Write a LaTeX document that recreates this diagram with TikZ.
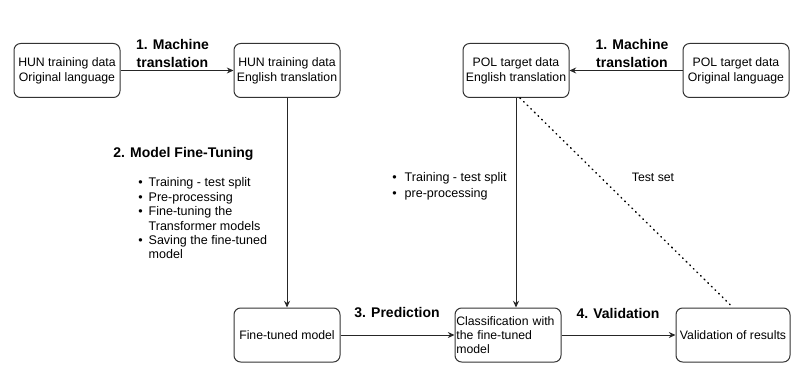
\documentclass[tikz,border=0pt]{standalone}
\usepackage{fontspec}
\setmainfont{Liberation Sans}
\usetikzlibrary{arrows.meta}

\begin{document}
\begin{tikzpicture}[
    x=0.75pt, y=-0.75pt,
    box/.style={rounded corners=5pt, draw=black!80, line width=0.75pt, minimum width=79.5pt, minimum height=40.5pt, align=center, font=\fontsize{9.2}{11.5}\selectfont, inner sep=1pt},
    arrow/.style={-{Stealth[length=5pt, width=4.5pt]}, line width=0.75pt, black!85},
    stage/.style={font=\fontsize{10.5}{13.5}\selectfont\bfseries, align=center, inner sep=0pt},
    notes/.style={font=\fontsize{9.4}{10.8}\selectfont, inner sep=0pt, anchor=north west}
]
\useasboundingbox (0,0) rectangle (799,381);

% Top row: data sets
\node[box] (hunorig) at (67, 70.5) {HUN training data\\Original language};
\node[box] (hunen) at (287, 70.5) {HUN training data\\English translation};
\node[box] (polen) at (516, 70.5) {POL target data\\English translation};
\node[box] (polorig) at (736, 70.5) {POL target data\\Original language};

% Bottom row: model and results
\node[box] (finetuned) at (287, 335) {Fine-tuned model};
\node[box, align=left, text width=77.5pt, font=\fontsize{9.2}{10.5}\selectfont] (classif) at (508, 335) {Classification with\\the fine-tuned\\model};
\node[box, minimum width=85.5pt] (validation) at (733, 335) {Validation of results};

% Translation steps
\draw[arrow] (hunorig) -- (hunen);
\draw[arrow] (polorig) -- (polen);
\node[stage] (mt1) at (172.5, 53) {1. Machine\\translation};
\node[stage] (mt2) at (632, 53) {1. Machine\\translation};

% Fine-tuning branch
\draw[arrow] (hunen) -- (finetuned);
\node[stage, anchor=west] (ft) at (113, 154) {2. Model Fine-Tuning};
\node[notes] (ftlist) at (138, 176.5) {%
    \begin{tabular}{@{}l@{\hspace{4.5pt}}l@{}}
    \textbullet & Training - test split\\
    \textbullet & Pre-processing\\
    \textbullet & Fine-tuning the\\
                & Transformer models\\
    \textbullet & Saving the fine-tuned\\
                & model
    \end{tabular}};

% Target branch
\draw[arrow] (polen.south) -- (polen.south |- classif.north);
\node[notes, font=\fontsize{9.4}{12}\selectfont] (pollist) at (392, 170) {%
    \begin{tabular}{@{}l@{\hspace{6pt}}l@{}}
    \textbullet & Training - test split\\
    \textbullet & pre-processing
    \end{tabular}};

% Test set
\draw[line width=1.1pt, dash pattern=on 0.6pt off 3.2pt, line cap=round] ([xshift=3pt]polen.south) -- (validation.north);
\node[font=\fontsize{9.2}{11}\selectfont] (testset) at (653, 177) {Test set};

% Prediction and validation
\draw[arrow] (finetuned) -- (classif);
\draw[arrow] (classif) -- (validation);
\node[stage] (pred) at (397, 313) {3. Prediction};
\node[stage] (valid) at (618, 313) {4. Validation};

\end{tikzpicture}
\end{document}
